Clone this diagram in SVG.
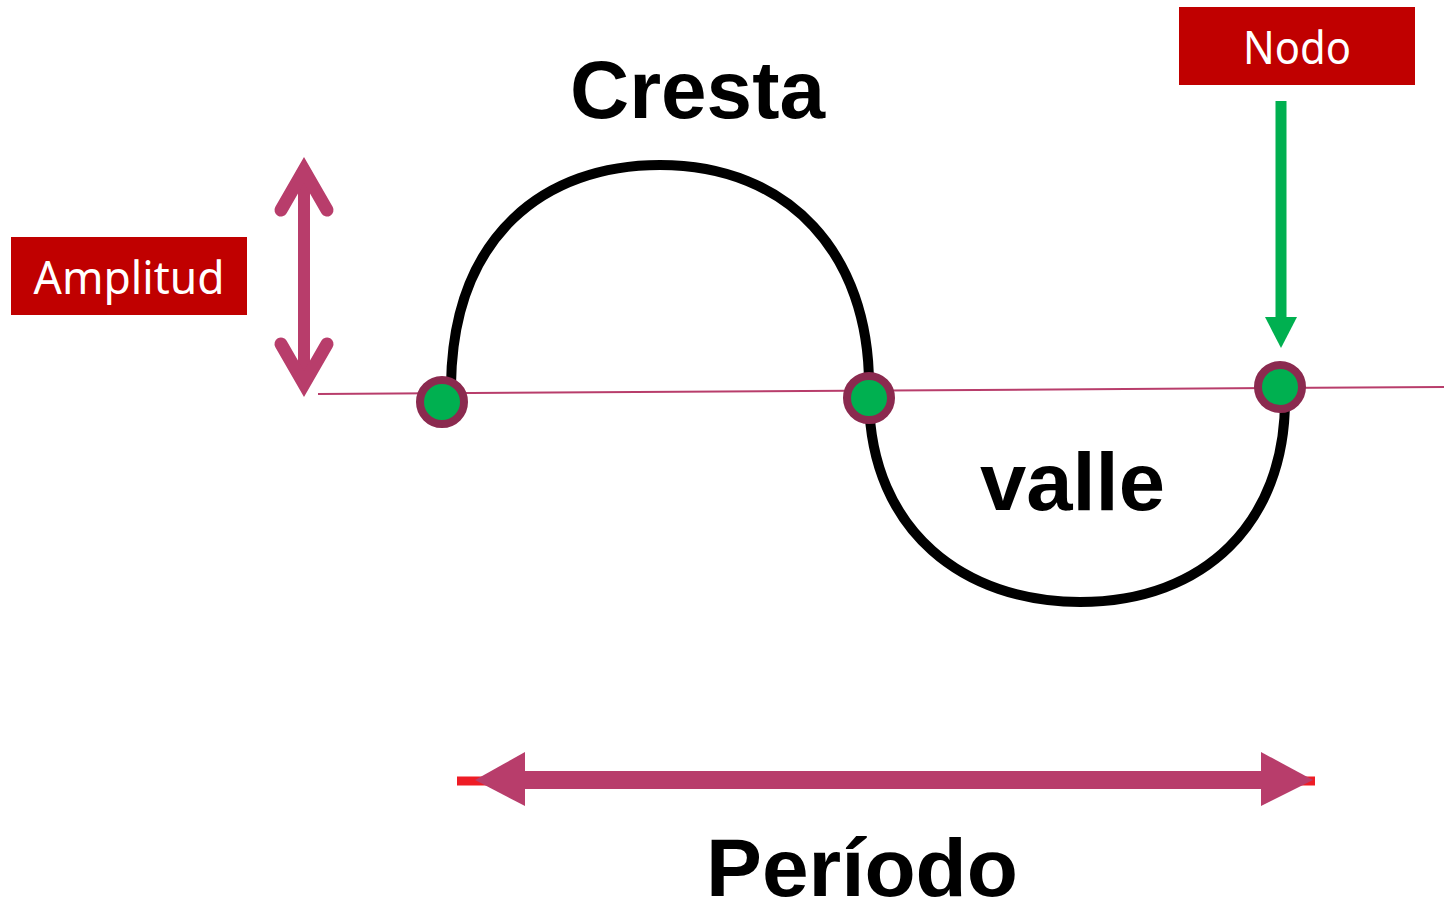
<svg xmlns="http://www.w3.org/2000/svg" width="1444" height="914" viewBox="0 0 1444 914">
<style>
.lbl{fill:#c00000}
.lt{fill:#fff;font-family:"Noto Sans","DejaVu Sans",sans-serif;font-size:46px}
.big{fill:#000;font-family:"Liberation Sans",Arial,sans-serif;font-weight:bold;font-size:82px}
.wave{fill:none;stroke:#000;stroke-width:10}
.node{fill:#00b050;stroke:#8b2a4f;stroke-width:8}
.mag{stroke:#b83d6b;fill:none}
</style>
<rect width="1444" height="914" fill="#fff"/>
<g id="wave">
<path class="wave" d="M451,385 C453,235 545,165 660,165 C790,165 869,255 869,385"/>
<path class="wave" d="M869,400 C871,532 965,602 1080,602 C1205,602 1285,522 1285,400"/>
</g>
<g id="connectors">
<line class="mag" x1="318" y1="394" x2="1444" y2="387" stroke-width="2"/>
<g id="amplitude-arrow">
<line class="mag" x1="304" y1="168" x2="304" y2="384" stroke-width="12"/>
<polyline class="mag" points="281,210 304,170 327,210" stroke-width="13" stroke-linecap="round" stroke-linejoin="miter"/>
<polyline class="mag" points="281,344 304,384 327,344" stroke-width="13" stroke-linecap="round" stroke-linejoin="miter"/>
<polygon points="304,159 296,172 312,172" fill="#b83d6b"/>
<polygon points="304,393 296,380 312,380" fill="#b83d6b"/>
</g>
<g id="node-arrow">
<line x1="1281" y1="101" x2="1281" y2="320" stroke="#00b050" stroke-width="11"/>
<polygon points="1265,317 1297,317 1281,348" fill="#00b050"/>
</g>
<g id="period-arrow">
<line x1="457" y1="781" x2="1315" y2="781" stroke="#ee1c25" stroke-width="9"/>
<rect x="520" y="771" width="745" height="18" fill="#b83d6b"/>
<polygon points="475,780 525,752 525,806" fill="#b83d6b"/>
<polygon points="1313,780 1261,752 1261,806" fill="#b83d6b"/>
</g>
</g>
<g id="node1"><circle class="node" cx="442" cy="402" r="22"/></g>
<g id="node2"><circle class="node" cx="869" cy="398" r="22"/></g>
<g id="node3"><circle class="node" cx="1280" cy="387" r="22"/></g>
<g id="amplitud">
<rect class="lbl" x="11" y="237" width="236" height="78"/>
<text class="lt" x="129" y="294" text-anchor="middle" textLength="191" lengthAdjust="spacingAndGlyphs">Amplitud</text>
</g>
<g id="nodo">
<rect class="lbl" x="1179" y="7" width="236" height="78"/>
<text class="lt" x="1297" y="64" text-anchor="middle" textLength="108" lengthAdjust="spacingAndGlyphs">Nodo</text>
</g>
<g id="cresta"><text class="big" x="570" y="118" textLength="255" lengthAdjust="spacingAndGlyphs">Cresta</text></g>
<g id="valle"><text class="big" x="980" y="510" textLength="185" lengthAdjust="spacingAndGlyphs">valle</text></g>
<g id="periodo"><text class="big" x="706" y="896" textLength="312" lengthAdjust="spacingAndGlyphs">Período</text></g>
</svg>
